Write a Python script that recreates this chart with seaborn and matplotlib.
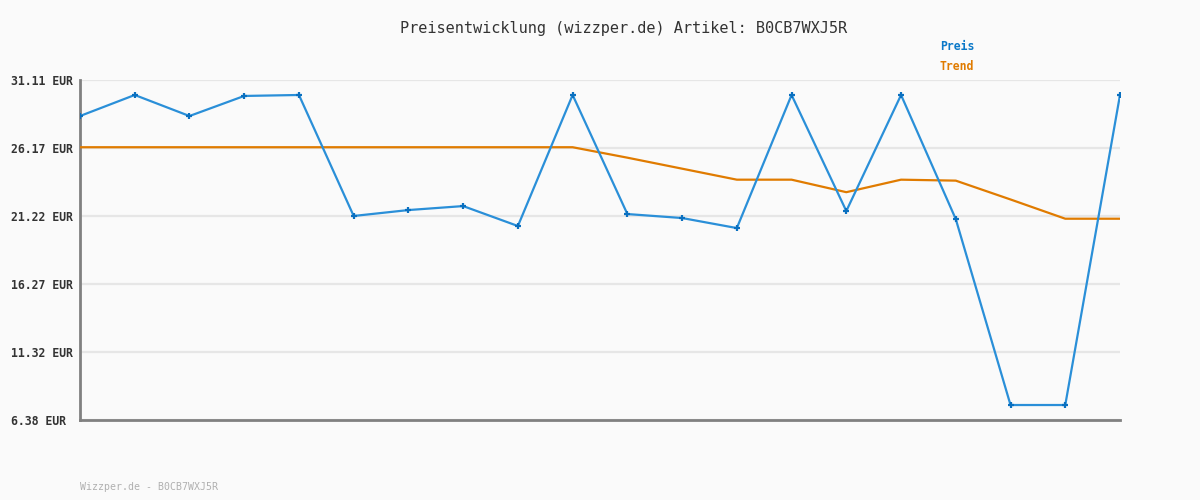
import pandas as pd
import numpy as np
import matplotlib
matplotlib.use('Agg')
import matplotlib.pyplot as plt
import seaborn as sns

# Werte
punkte = list(range(20))
preis = [28.49, 30.02, 28.49, 29.95, 30.02, 21.22, 21.65, 21.94, 20.49, 30.02,
         21.36, 21.07, 20.34, 30.02, 21.58, 30.02, 20.99, 7.47, 7.47, 30.02]
trend = [26.22, 26.22, 26.22, 26.22, 26.22, 26.22, 26.22, 26.22, 26.22, 26.22,
         25.46, 24.66, 23.86, 23.86, 22.95, 23.86, 23.79, 22.42, 21.02, 21.02]
yticks = [6.38, 11.32, 16.27, 21.22, 26.17, 31.11]
ytick_labels = [f"{v:.2f} EUR" for v in yticks]

titel = "Preisentwicklung (wizzper.de) Artikel: B0CB7WXJ5R"
fusszeile = "Wizzper.de - B0CB7WXJ5R"

df = pd.DataFrame({'punkt': punkte, 'Preis': preis, 'Trend': trend})

sns.set_style('white')
plt.rcParams['font.family'] = ['DejaVu Sans Mono']

bg = '#fafafa'
fig = plt.figure(figsize=(12, 5), dpi=100, facecolor=bg)
ax = fig.add_axes([80/1200, 80/500, 1040/1200, 340/500])
ax.set_facecolor(bg)

ax.set_yticks(yticks)
ax.grid(True, axis='y', color='#e6e6e6', linewidth=1.6)
ax.set_axisbelow(True)

sns.lineplot(data=df, x='punkt', y='Trend', ax=ax, color='#e07b00', linewidth=1.6, zorder=3)
sns.lineplot(data=df, x='punkt', y='Preis', ax=ax, color='#2a8fd8', linewidth=1.6,
             marker='+', markersize=5, markeredgewidth=1.6, markeredgecolor='#0a70c0', zorder=4)

ax.set_xlim(0, 19)
ax.set_ylim(6.38, 31.11)
ax.set_xticks([])
ax.set_xlabel('')
ax.set_ylabel('')
ax.set_yticklabels(ytick_labels, fontsize=8.3, fontweight='bold', color='#333333')
for lab in ax.get_yticklabels():
    lab.set_horizontalalignment('left')
ax.tick_params(axis='y', length=0, pad=50)

for s in ['top', 'right']:
    ax.spines[s].set_visible(False)
for s in ['left', 'bottom']:
    ax.spines[s].set_color('#808080')
    ax.spines[s].set_linewidth(2)

fig.text(624/1200, 1 - 28/500, titel, ha='center', va='center', fontsize=11,
         color='#333333')
fig.text(940/1200, 1 - 47/500, 'Preis', ha='left', va='center', fontsize=8.3,
         fontweight='bold', color='#0a78c8')
fig.text(940/1200, 1 - 67/500, 'Trend', ha='left', va='center', fontsize=8.3,
         fontweight='bold', color='#e07b00')
fig.text(80/1200, 1 - 487/500, fusszeile, ha='left', va='center', fontsize=7.1,
         color='#b0b0b0')

plt.savefig('out.png', dpi=100, facecolor=bg)
